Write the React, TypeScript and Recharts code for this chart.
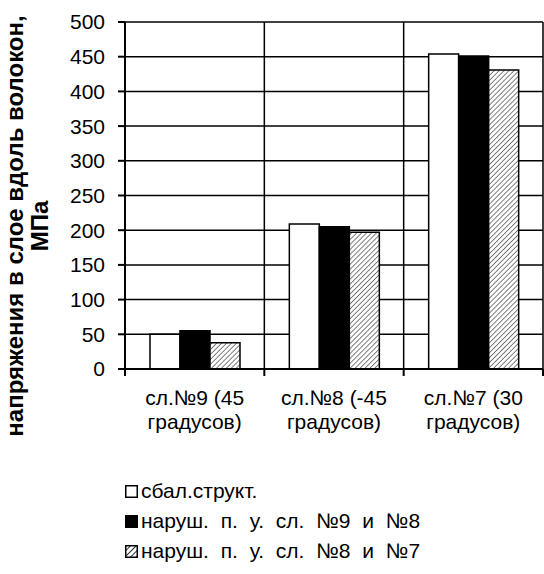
import { BarChart, Bar, XAxis, YAxis, CartesianGrid, Legend } from "recharts";

const categories = ["сл.№9 (45 градусов)", "сл.№8 (-45 градусов)", "сл.№7 (30 градусов)"];
const seriesNames = ["сбал.структ.", "наруш. п. у. сл. №9 и №8", "наруш. п. у. сл. №8 и №7"];
const balanced = [50, 209, 454];
const broken98 = [55, 205, 451];
const broken87 = [38, 197, 431];
const yTicks = [0, 50, 100, 150, 200, 250, 300, 350, 400, 450, 500];
const yTitle = ["напряжения в слое вдоль волокон,", "МПа"];

const FONT = "'Liberation Sans', Arial, Helvetica, sans-serif";

const data = categories.map((name, i) => ({
  name,
  balanced: balanced[i],
  broken98: broken98[i],
  broken87: broken87[i],
}));

// Excel-style category ticks sit on the band boundaries, not the centres
function CategoryTick(props: any) {
  const { x, y, payload, index } = props;
  const half = payload?.offset || 69.7;
  const text = String(payload.value);
  const cut = text.lastIndexOf(" ");
  const lines = [text.slice(0, cut), text.slice(cut + 1)];
  return (
    <g>
      <line x1={x - half} y1={y} x2={x - half} y2={y + 7} stroke="#000" strokeWidth={2} />
      {index === categories.length - 1 && (
        <line x1={x + half} y1={y} x2={x + half} y2={y + 7} stroke="#000" strokeWidth={2} />
      )}
      <text textAnchor="middle" fontSize={21} fontFamily={FONT} fill="#000">
        <tspan x={x} y={y + 36}>{lines[0]}</tspan>
        <tspan x={x} dy={24}>{lines[1]}</tspan>
      </text>
    </g>
  );
}

function YTitle() {
  return (
    <text
      transform="translate(23, 226) rotate(-90)"
      textAnchor="middle"
      fontSize={24}
      fontWeight="bold"
      fontFamily={FONT}
      fill="#000"
    >
      <tspan x={0} y={0}>{yTitle[0]}</tspan>
      <tspan x={0} dy={25}>{yTitle[1]}</tspan>
    </text>
  );
}

function LegendIcon({ i }: { i: number }) {
  return (
    <svg width={13} height={13} style={{ marginRight: 3, display: "block" }}>
      <defs>
        <pattern id="hatchLegend" width="4" height="4" patternUnits="userSpaceOnUse" patternTransform="rotate(45)">
          <rect width="4" height="4" fill="#fff" />
          <line x1="0" y1="0" x2="0" y2="4" stroke="#000" strokeWidth="1.6" />
        </pattern>
      </defs>
      <rect
        x={0.75}
        y={0.75}
        width={11.5}
        height={11.5}
        fill={i === 0 ? "#fff" : i === 1 ? "#000" : "url(#hatchLegend)"}
        stroke="#000"
        strokeWidth={1.5}
      />
    </svg>
  );
}

function LegendBox() {
  return (
    <div style={{ fontFamily: FONT, fontSize: 21, color: "#000", wordSpacing: 6 }}>
      {seriesNames.map((name, i) => (
        <div key={name} style={{ display: "flex", alignItems: "center", height: 30, whiteSpace: "nowrap" }}>
          <LegendIcon i={i} />
          <span>{name}</span>
        </div>
      ))}
    </div>
  );
}

export default function App() {
  return (
    <div style={{ position: "absolute", left: 0, top: 0, background: "#fff" }}>
      <BarChart
        width={544}
        height={574}
        data={data}
        margin={{ top: 22, right: 1, left: 0, bottom: 145 }}
        barSize={30}
        barGap={0}
      >
        <defs>
          <pattern id="hatch" width="3.5" height="3.5" patternUnits="userSpaceOnUse" patternTransform="rotate(45)">
            <rect width="3.5" height="3.5" fill="#fff" />
            <line x1="0" y1="0" x2="0" y2="3.5" stroke="#000" strokeWidth="1" />
          </pattern>
        </defs>
        <CartesianGrid
          stroke="#000"
          strokeWidth={1.5}
          verticalCoordinatesGenerator={({ offset }: any) =>
            [1, 2, 3].map((i) => offset.left + (i * offset.width) / 3)
          }
        />
        <XAxis
          dataKey="name"
          height={60}
          interval={0}
          tickSize={0}
          tickMargin={0}
          tickLine={false}
          axisLine={{ stroke: "#000", strokeWidth: 2 }}
          tick={<CategoryTick />}
        />
        <YAxis
          width={125}
          domain={[0, 500]}
          ticks={yTicks}
          interval={0}
          tickSize={7}
          tickMargin={13}
          axisLine={{ stroke: "#000", strokeWidth: 2 }}
          tickLine={{ stroke: "#000", strokeWidth: 2 }}
          tick={{ fill: "#000", fontSize: 21, fontFamily: FONT }}
          label={<YTitle />}
        />
        <Legend
          layout="horizontal"
          align="center"
          verticalAlign="middle"
          content={<LegendBox />}
          wrapperStyle={{ left: 125, top: 476, width: 410 }}
        />
        <Bar dataKey="balanced" name={seriesNames[0]} fill="#fff" stroke="#000" strokeWidth={1.5} isAnimationActive={false} />
        <Bar dataKey="broken98" name={seriesNames[1]} fill="#000" stroke="#000" strokeWidth={1.5} isAnimationActive={false} />
        <Bar dataKey="broken87" name={seriesNames[2]} fill="url(#hatch)" stroke="#000" strokeWidth={1.5} isAnimationActive={false} />
      </BarChart>
    </div>
  );
}
